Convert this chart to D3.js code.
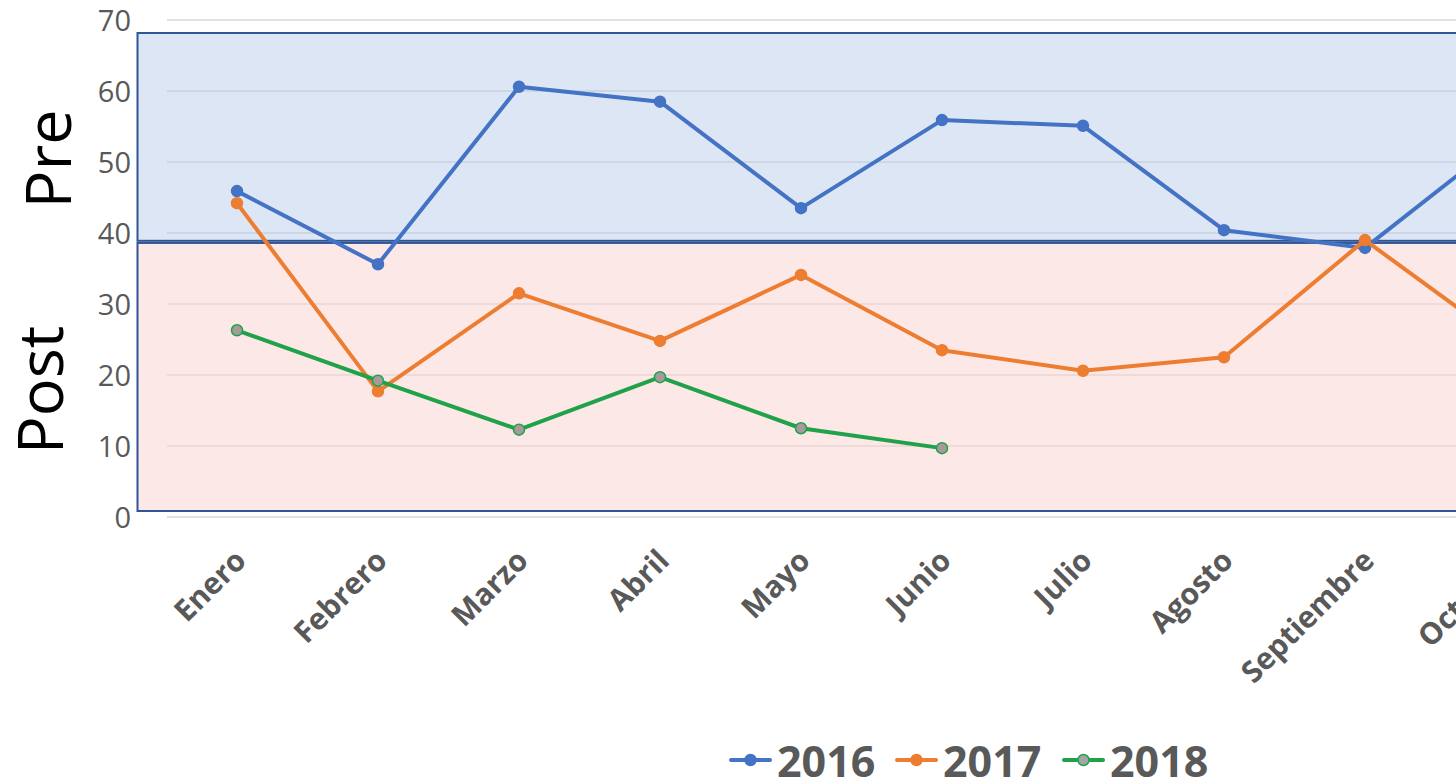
<!DOCTYPE html>
<html>
<head>
<meta charset="utf-8">
<script src="https://cdn.jsdelivr.net/npm/d3@7"></script>
<style>
  body{margin:0;background:#fff;overflow:hidden;}
  svg{display:block;font-family:"Open Sans",sans-serif;}
</style>
</head>
<body>
<svg></svg>
<script>
var months = ["Enero","Febrero","Marzo","Abril","Mayo","Junio","Julio","Agosto","Septiembre","Octubre"];
var v2016 = [45.9,35.6,60.6,58.5,43.5,55.9,55.1,40.4,37.9,53.5];
var v2017 = [44.2,17.7,31.5,24.8,34.1,23.5,20.6,22.5,39.0,24.5];
var v2018 = [26.3,19.2,12.3,19.7,12.5,9.7];
var yTicks = [0,10,20,30,40,50,60,70];
var years = ["2016","2017","2018"];

var width = 1456, height = 784;
var svg = d3.select("svg").attr("width",width).attr("height",height);

var x = d3.scalePoint().domain(months).range([237,1506]);
var y = d3.scaleLinear().domain([0,70]).range([517,20]);

//gridlines
svg.append("g").selectAll("line").data(yTicks).enter().append("line")
   .attr("x1",167).attr("x2",width)
   .attr("y1",function(d){return y(d);}).attr("y2",function(d){return y(d);})
   .attr("stroke","#d9d9d9").attr("stroke-width",1.5);

//pre / post bands
svg.append("rect").attr("x",137.5).attr("y",33).attr("width",width).attr("height",y(38.9)-33)
   .attr("fill","rgba(180,199,231,0.45)").attr("stroke","#2f5597").attr("stroke-width",2);
svg.append("rect").attr("x",137.5).attr("y",y(38.6)).attr("width",width).attr("height",511-y(38.6))
   .attr("fill","rgba(251,210,210,0.5)").attr("stroke","#2f5597").attr("stroke-width",2);

//y axis labels
var yAxis = d3.axisLeft(y).tickValues(yTicks).tickSize(0).tickPadding(0);
var ga = svg.append("g").attr("transform","translate(131,0)").call(yAxis);
ga.select(".domain").remove();
ga.selectAll("text").attr("fill","#595959").style("font-size","29px")
  .style("font-family","'Open Sans',sans-serif").attr("dy","0.35em");

//x axis labels
var xAxis = d3.axisBottom(x).tickSize(0).tickPadding(0);
var gx = svg.append("g").attr("transform","translate(0,545)").call(xAxis);
gx.select(".domain").remove();
gx.selectAll("text").attr("fill","#595959").style("font-size","30px").style("font-weight","bold")
  .style("font-family","'Open Sans',sans-serif")
  .attr("text-anchor","end").attr("dy","0.35em")
  .attr("transform","translate(3,10) rotate(-45)");

var line = d3.line().x(function(d,i){return x(months[i]);}).y(function(d){return y(d);});

var series = [
  {vals:v2016, color:"#4472c4", marker:"#4472c4", mstroke:"#4472c4"},
  {vals:v2017, color:"#ed7d31", marker:"#ed7d31", mstroke:"#ed7d31"},
  {vals:v2018, color:"#1fa24a", marker:"#a89a9c", mstroke:"#1fa24a"}
];

series.forEach(function(s){
  svg.append("path").datum(s.vals).attr("d",line)
     .attr("fill","none").attr("stroke",s.color).attr("stroke-width",4).attr("stroke-linejoin","round");
  svg.append("g").selectAll("circle").data(s.vals).enter().append("circle")
     .attr("cx",function(d,i){return x(months[i]);}).attr("cy",function(d){return y(d);})
     .attr("r",5.5).attr("fill",s.marker).attr("stroke",s.mstroke).attr("stroke-width",1.5);
});

//Pre / Post labels
svg.append("text").text("Pre").attr("transform","translate(71,159) rotate(-90)")
   .attr("text-anchor","middle").style("font-size","63px").attr("fill","#000");
svg.append("text").text("Post").attr("transform","translate(63,390) rotate(-90)")
   .attr("text-anchor","middle").style("font-size","63px").attr("fill","#000");

//legend
var legX = [729,895,1062];
var legendSwatch = ["#a5a5a5"];
var lg = svg.append("g");
years.forEach(function(yr,i){
  var s = series[i];
  var g = lg.append("g").attr("transform","translate("+legX[i]+",760)");
  g.append("line").attr("x1",2).attr("x2",41).attr("y1",0).attr("y2",0)
   .attr("stroke",s.color).attr("stroke-width",4).attr("stroke-linecap","round");
  g.append("circle").attr("cx",21.5).attr("cy",0).attr("r",5.5)
   .attr("fill",i==2?legendSwatch[0]:s.marker).attr("stroke",s.mstroke).attr("stroke-width",1.5);
  g.append("text").text(yr).attr("x",48).attr("y",17)
   .style("font-size","43px").style("font-weight","bold").attr("fill","#595959");
});
</script>
</body>
</html>
